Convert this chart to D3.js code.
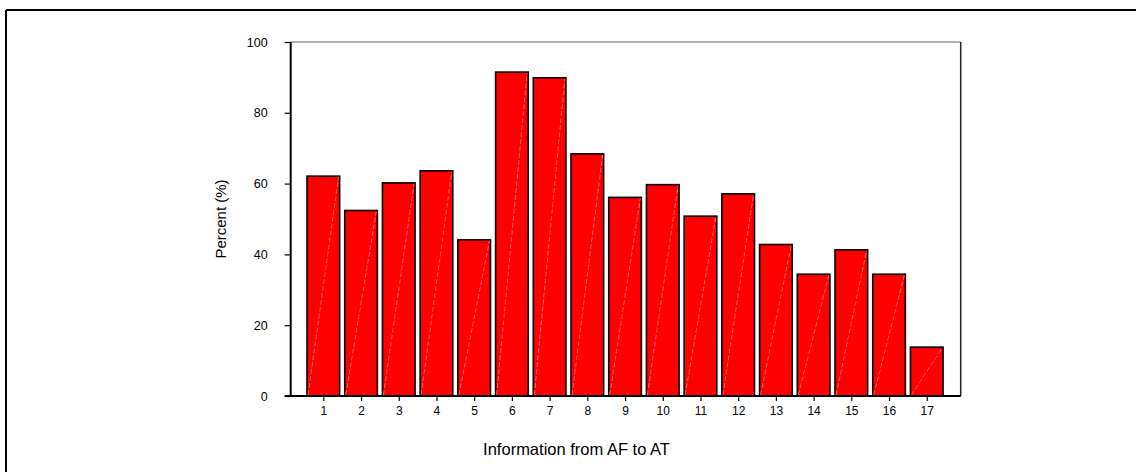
<!DOCTYPE html>
<html>
<head>
<meta charset="utf-8">
<script src="https://cdn.jsdelivr.net/npm/d3@7"></script>
<style>
html,body{margin:0;padding:0;background:#fff;}
svg{display:block;font-family:Arial,"Liberation Sans",sans-serif;}
</style>
</head>
<body>
<svg id="chart" width="1138" height="472"></svg>
<script>
const categories = [1,2,3,4,5,6,7,8,9,10,11,12,13,14,15,16,17];
const percentValues = [62.1,52.4,60.2,63.6,44.1,91.5,89.9,68.4,56.1,59.7,50.8,57.1,42.8,34.4,41.3,34.4,13.8];
const yTicks = [0,20,40,60,80,100];
const xLabel = "Information from AF to AT";
const yLabel = "Percent (%)";

const svg = d3.select("#chart");
const pLeft = 290.7, pRight = 960.7, pTop = 42, pBottom = 396;

const x = d3.scaleLinear().domain([0.135, 17.9]).range([pLeft, pRight]);
const y = d3.scaleLinear().domain([0, 100]).range([pBottom, pTop]);
const step = x(2) - x(1);
const bw = step * 0.865;

// outer frame (top and left only)
svg.append("line").attr("x1",6).attr("x2",1136).attr("y1",10).attr("y2",10)
  .attr("stroke","#000").attr("stroke-width",2);
svg.append("line").attr("x1",6).attr("x2",6).attr("y1",10).attr("y2",472)
  .attr("stroke","#000").attr("stroke-width",2);

// plot frame top/right
svg.append("line").attr("x1",pLeft).attr("x2",pRight).attr("y1",pTop).attr("y2",pTop)
  .attr("stroke","#666").attr("stroke-width",1.2);
svg.append("line").attr("x1",pRight).attr("x2",pRight).attr("y1",pTop).attr("y2",pBottom)
  .attr("stroke","#222").attr("stroke-width",1.5);

// bars
const g = svg.append("g");
const bars = g.selectAll("g.bar").data(categories.map((c,i)=>({c, v: percentValues[i]})))
  .enter().append("g").attr("class","bar");
bars.append("rect")
  .attr("x", d => x(d.c) - bw/2)
  .attr("y", d => y(d.v))
  .attr("width", bw)
  .attr("height", d => y(0) - y(d.v))
  .attr("fill", "#ff0000")
  .attr("stroke", "#000")
  .attr("stroke-width", 1.6);
bars.append("line")
  .attr("x1", d => x(d.c) - bw/2 + 1)
  .attr("y1", y(0) - 1)
  .attr("x2", d => x(d.c) + bw/2 - 1)
  .attr("y2", d => y(d.v) + 1)
  .attr("stroke", "#ff7a7a")
  .attr("stroke-width", 0.8)
  .attr("stroke-dasharray", "5,2");

// y axis
const yAxis = d3.axisLeft(y).tickValues(yTicks).tickSize(6).tickPadding(17).tickFormat(d3.format("d"));
const ya = svg.append("g").attr("transform", `translate(${pLeft},0)`).call(yAxis);
ya.select(".domain").attr("stroke","#000").attr("stroke-width",2).attr("d", `M0,${pTop}V${pBottom}`);
ya.selectAll(".tick line").attr("stroke","#000").attr("stroke-width",1.2);
ya.selectAll(".tick text").attr("font-size", 12.5).attr("fill","#000").attr("font-family","Arial, 'Liberation Sans', sans-serif");

// x axis
const xAxis = d3.axisBottom(x).tickValues(categories).tickSize(5).tickPadding(5).tickFormat(d3.format("d"));
const xa = svg.append("g").attr("transform", `translate(0,${pBottom})`).call(xAxis);
xa.select(".domain").attr("stroke","#000").attr("stroke-width",2).attr("d", `M${pLeft-6},0H${pRight}`);
xa.selectAll(".tick line").attr("stroke","#000").attr("stroke-width",1.2);
xa.selectAll(".tick text").attr("font-size", 12).attr("fill","#000").attr("font-family","Arial, 'Liberation Sans', sans-serif");

// labels
svg.append("text").attr("x", 576.5).attr("y", 455)
  .attr("text-anchor","middle").attr("font-size",16.5).attr("fill","#000").text(xLabel);
svg.append("text").attr("transform", `translate(226,${(pTop+pBottom)/2}) rotate(-90)`)
  .attr("text-anchor","middle").attr("font-size",15).attr("fill","#000").text(yLabel);
</script>
</body>
</html>
